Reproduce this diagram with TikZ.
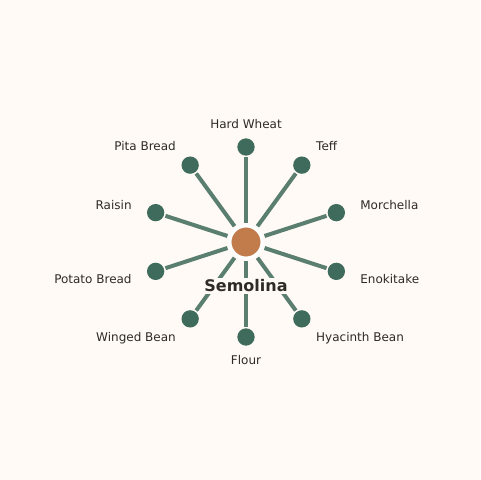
\documentclass[tikz,border=0pt]{standalone}
\usepackage{fontspec}
\setmainfont{DejaVu Sans}
\usepackage{tikz}
\usetikzlibrary{arrows}
\definecolor{paper}{HTML}{FFFAF6}
\definecolor{spoke}{HTML}{5A7E6F}
\definecolor{leaf}{HTML}{3E6B5B}
\definecolor{hub}{HTML}{C27B4A}
\definecolor{ink}{HTML}{2E2A26}
\begin{document}
\begin{tikzpicture}[x=0.75pt,y=0.75pt,
				hub node/.style={circle,fill=hub,draw=white,line width=2.2pt,
					minimum size=24pt,inner sep=0pt},
				leaf node/.style={circle,fill=leaf,minimum size=13pt,inner sep=0pt},
				leaf label/.style={font=\fontsize{9}{11}\selectfont,text=ink,inner sep=0pt},
				spoke line/.style={draw=spoke,line width=3pt,shorten <=1.5pt,shorten >=1pt}]
				
				\fill[paper] (0,0) rectangle (480,480);
				\useasboundingbox (0,0) rectangle (480,480);
				
				\node[hub node] (S) at (246,238) {};
				\node[leaf node] (HW) at ([shift={(90:95)}]S) {};
				\node[leaf node] (TE) at ([shift={(54:95)}]S) {};
				\node[leaf node] (MO) at ([shift={(18:95)}]S) {};
				\node[leaf node] (EN) at ([shift={(-18:95)}]S) {};
				\node[leaf node] (HB) at ([shift={(-54:95)}]S) {};
				\node[leaf node] (FL) at ([shift={(-90:95)}]S) {};
				\node[leaf node] (WB) at ([shift={(-126:95)}]S) {};
				\node[leaf node] (PO) at ([shift={(-162:95)}]S) {};
				\node[leaf node] (RA) at ([shift={(162:95)}]S) {};
				\node[leaf node] (PI) at ([shift={(126:95)}]S) {};
				
				\path[spoke line]
				(S) edge (HW)
				(S) edge (TE)
				(S) edge (MO)
				(S) edge (EN)
				(S) edge (HB)
				(S) edge (FL)
				(S) edge (WB)
				(S) edge (PO)
				(S) edge (RA)
				(S) edge (PI);
				
				\node[leaf label] (HWl) at ([shift={(90:118)}]S) {Hard Wheat};
				\node[leaf label,anchor=west] (TEl) at ([shift={(54:119)}]S) {Teff};
				\node[leaf label,anchor=west] (MOl) at ([shift={(18:120)}]S) {Morchella};
				\node[leaf label,anchor=west] (ENl) at ([shift={(-18:120)}]S) {Enokitake};
				\node[leaf label,anchor=west] (HBl) at ([shift={(-54:119)}]S) {Hyacinth Bean};
				\node[leaf label] (FLl) at ([shift={(-90:118)}]S) {Flour};
				\node[leaf label,anchor=east] (WBl) at ([shift={(-126:119)}]S) {Winged Bean};
				\node[leaf label,anchor=east] (POl) at ([shift={(-162:120)}]S) {Potato Bread};
				\node[leaf label,anchor=east] (RAl) at ([shift={(162:120)}]S) {Raisin};
				\node[leaf label,anchor=east] (PIl) at ([shift={(126:119)}]S) {Pita Bread};
				
				\node[fill=paper,text=ink,inner sep=1.5pt,
					font=\fontsize{12}{14}\bfseries\selectfont] (Sl) at (246,194) {Semolina};
			\end{tikzpicture}
\end{document}
